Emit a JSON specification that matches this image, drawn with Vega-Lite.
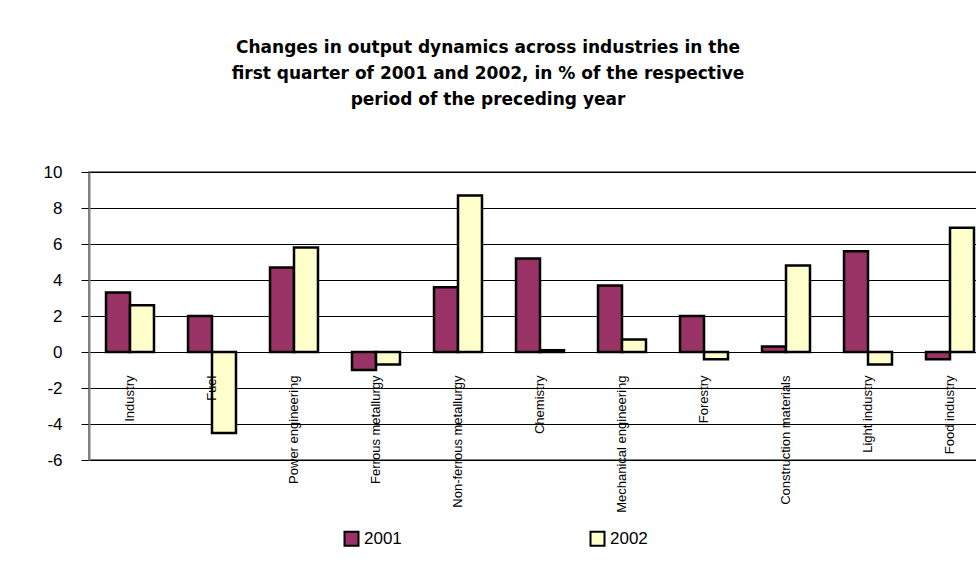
{
  "$schema": "https://vega.github.io/schema/vega-lite/v6.json",
  "width": 888,
  "height": 288,
  "autosize": {"type": "none"},
  "padding": {"left": 89, "top": 172, "right": 0, "bottom": 116},
  "background": "white",
  "title": {
    "text": ["Changes in output dynamics across industries in the", "first quarter of 2001 and 2002, in % of the respective", "period of the preceding year"],
    "fontSize": 17,
    "fontWeight": "bold",
    "lineHeight": 26,
    "anchor": "middle",
    "frame": "group",
    "dx": -45,
    "offset": 54,
    "color": "black",
    "font": "DejaVu Sans"
  },
  "data": {
    "values": [
      {"industry": "Industry", "year": "2001", "value": 3.3},
      {"industry": "Industry", "year": "2002", "value": 2.6},
      {"industry": "Fuel", "year": "2001", "value": 2.0},
      {"industry": "Fuel", "year": "2002", "value": -4.5},
      {"industry": "Power engineering", "year": "2001", "value": 4.7},
      {"industry": "Power engineering", "year": "2002", "value": 5.8},
      {"industry": "Ferrous metallurgy", "year": "2001", "value": -1.0},
      {"industry": "Ferrous metallurgy", "year": "2002", "value": -0.7},
      {"industry": "Non-ferrous metallurgy", "year": "2001", "value": 3.6},
      {"industry": "Non-ferrous metallurgy", "year": "2002", "value": 8.7},
      {"industry": "Chemistry", "year": "2001", "value": 5.2},
      {"industry": "Chemistry", "year": "2002", "value": 0.1},
      {"industry": "Mechanical engineering", "year": "2001", "value": 3.7},
      {"industry": "Mechanical engineering", "year": "2002", "value": 0.7},
      {"industry": "Forestry", "year": "2001", "value": 2.0},
      {"industry": "Forestry", "year": "2002", "value": -0.4},
      {"industry": "Construction materials", "year": "2001", "value": 0.3},
      {"industry": "Construction materials", "year": "2002", "value": 4.8},
      {"industry": "Light industry", "year": "2001", "value": 5.6},
      {"industry": "Light industry", "year": "2002", "value": -0.7},
      {"industry": "Food industry", "year": "2001", "value": -0.4},
      {"industry": "Food industry", "year": "2002", "value": 6.9}
    ]
  },
  "mark": {"type": "bar", "stroke": "black", "strokeWidth": 2.5},
  "encoding": {
    "x": {
      "field": "industry",
      "type": "nominal",
      "sort": null,
      "scale": {"range": [0, 902], "paddingInner": 0.415, "paddingOuter": 0.2075},
      "axis": {
        "orient": "bottom",
        "offset": -85,
        "domain": false,
        "ticks": false,
        "grid": false,
        "labelAngle": -90,
        "labelAlign": "right",
        "labelBaseline": "middle",
        "labelPadding": 0,
        "labelFontSize": 13,
        "labelColor": "black",
        "labelOverlap": false,
        "labelLimit": 0,
        "title": null,
        "zindex": 1
      }
    },
    "xOffset": {"field": "year", "type": "nominal", "scale": {"paddingInner": 0, "paddingOuter": 0}},
    "y": {
      "field": "value",
      "type": "quantitative",
      "scale": {"domain": [-6, 10], "nice": false},
      "axis": {
        "values": [-6, -4, -2, 0, 2, 4, 6, 8, 10],
        "labelExpr": "replace(datum.label, '\u2212', '-')",
        "grid": true,
        "gridColor": "black",
        "gridWidth": 1,
        "gridOpacity": 1,
        "domainColor": "#808080",
        "domainWidth": 2,
        "tickColor": "black",
        "tickSize": 8,
        "tickWidth": 1,
        "labelFontSize": 17,
        "labelPadding": 19,
        "labelColor": "black",
        "title": null
      }
    },
    "color": {
      "field": "year",
      "type": "nominal",
      "scale": {"domain": ["2001", "2002"], "range": ["#993366", "#FFFFCC"]},
      "legend": {
        "orient": "none",
        "legendX": 254,
        "legendY": 358,
        "direction": "horizontal",
        "columns": 2,
        "columnPadding": 184,
        "title": null,
        "symbolType": "square",
        "symbolSize": 196,
        "symbolStrokeColor": "black",
        "symbolStrokeWidth": 2,
        "labelFontSize": 17,
        "labelOffset": 4,
        "labelColor": "black",
        "padding": 0
      }
    }
  },
  "config": {
    "view": {"stroke": "#808080", "strokeWidth": 2},
    "font": "Liberation Sans"
  }
}
